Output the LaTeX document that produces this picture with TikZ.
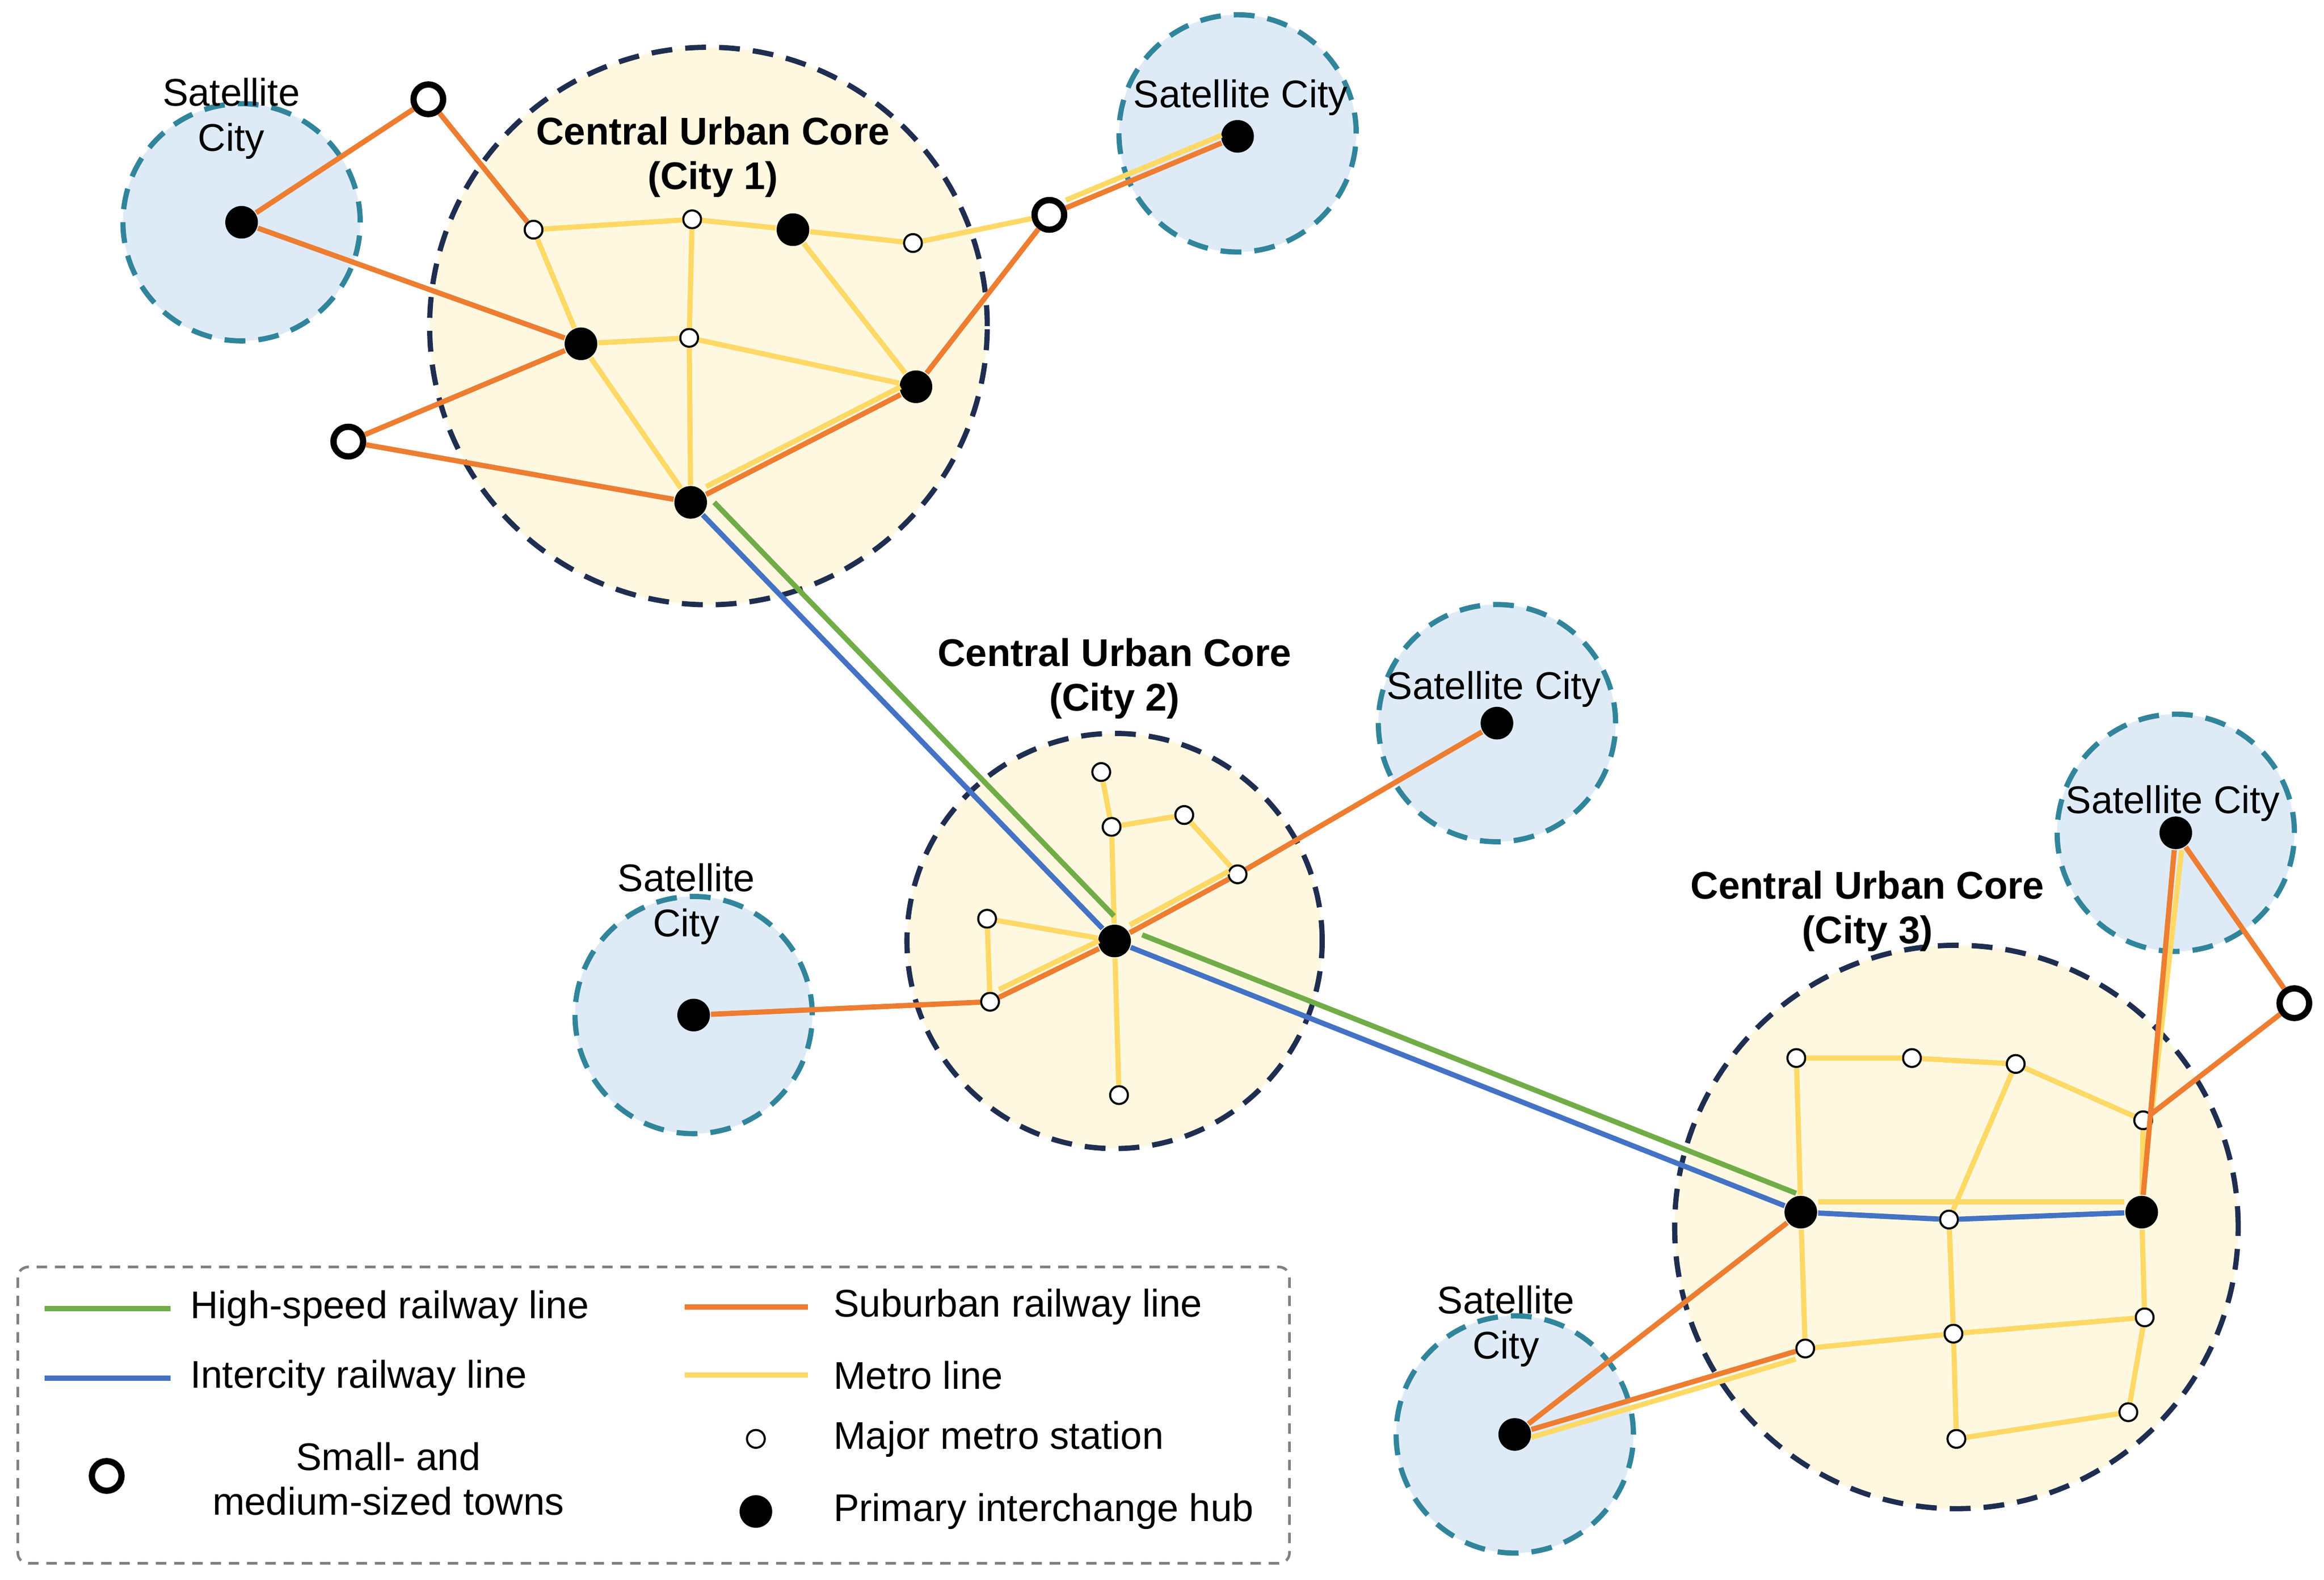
\documentclass[tikz,border=0pt]{standalone}
\usepackage{fontspec}
\setmainfont{Liberation Sans}
\definecolor{hsr}{RGB}{112,173,71}
\definecolor{icr}{RGB}{68,114,196}
\definecolor{sub}{RGB}{237,125,49}
\definecolor{met}{RGB}{255,217,102}
\definecolor{satfill}{RGB}{222,235,247}
\definecolor{satline}{RGB}{49,133,155}
\definecolor{corefill}{RGB}{255,248,225}
\definecolor{coreline}{RGB}{31,45,80}
\tikzset{
  sat/.style={fill=satfill, draw=satline, line width=1pt, dash pattern=on 4pt off 2.5pt},
  core/.style={fill=corefill, draw=coreline, line width=1pt, dash pattern=on 4pt off 2.5pt},
  hub/.style={circle, fill=black, inner sep=0pt, minimum size=0.22cm},
  stn/.style={circle, fill=white, draw=black, line width=0.4pt, inner sep=0pt, minimum size=0.12cm},
  town/.style={circle, fill=white, draw=black, line width=1.2pt, inner sep=0pt, minimum size=0.2cm},
  hsl/.style={hsr, line width=1pt},
  icl/.style={icr, line width=1pt},
  subl/.style={sub, line width=1pt},
  metl/.style={met, line width=1pt},
  lbl/.style={align=center, font=\fontsize{7.4}{8.6}\selectfont},
  blbl/.style={lbl, font=\fontsize{7.4}{8.6}\selectfont\bfseries}
}
\begin{document}
\begin{tikzpicture}[x=0.01cm, y=-0.01cm]
\useasboundingbox (0,0) rectangle (1568,1066);

% Regions
\draw[core] (478,220) circle[radius=1.88cm];
\draw[core] (752,635) circle[radius=1.4cm];
\draw[core] (1320,828) circle[radius=1.9cm];
\foreach \c in {(163,150),(835,90),(1010,488),(468,685),(1468,562),(1022,968)}
  \draw[sat] \c circle[radius=0.8cm];

% City 1
\node[hub] (h1a) at (535,155) {};
\node[hub] (h1b) at (392,232) {};
\node[hub] (h1c) at (618,261) {};
\node[hub] (h1d) at (466,339) {};
\node[stn] (s1a) at (360,155) {};
\node[stn] (s1b) at (467,148) {};
\node[stn] (s1c) at (616,164) {};
\node[stn] (s1d) at (465,228) {};
\node[town] (t1a) at (289,67) {};
\node[town] (t1b) at (235,298) {};
\node[town] (t1c) at (708,145) {};
\node[hub] (sa1) at (163,150) {};
\node[hub] (sa2) at (835,92) {};

% City 2
\node[hub] (h2) at (752,635) {};
\node[stn] (s2a) at (743,521) {};
\node[stn] (s2b) at (750,558) {};
\node[stn] (s2c) at (799,550) {};
\node[stn] (s2d) at (835,590) {};
\node[stn] (s2e) at (666,620) {};
\node[stn] (s2f) at (668,676) {};
\node[stn] (s2g) at (755,739) {};
\node[hub] (sa3) at (1010,488) {};
\node[hub] (sa4) at (468,685) {};

% City 3
\node[hub] (h3a) at (1215,818) {};
\node[hub] (h3b) at (1445,818) {};
\node[stn] (s3a) at (1212,714) {};
\node[stn] (s3b) at (1290,714) {};
\node[stn] (s3c) at (1360,718) {};
\node[stn] (s3d) at (1446,756) {};
\node[stn] (s3e) at (1315,823) {};
\node[stn] (s3f) at (1218,910) {};
\node[stn] (s3g) at (1318,900) {};
\node[stn] (s3h) at (1447,889) {};
\node[stn] (s3i) at (1320,971) {};
\node[stn] (s3j) at (1436,953) {};
\node[hub] (sa5) at (1468,562) {};
\node[hub] (sa6) at (1022,968) {};
\node[town] (t3a) at (1548,677) {};

% Metro lines
\draw[metl] (s1a) -- (s1b) -- (h1a) -- (s1c) -- (t1c);
\draw[metl, transform canvas={yshift=1.5pt}] (t1c) -- (sa2);
\draw[metl] (s1a) -- (h1b) -- (h1d);
\draw[metl] (s1b) -- (s1d) -- (h1d);
\draw[metl] (h1b) -- (s1d) -- (h1c);
\draw[metl] (h1a) -- (h1c);
\draw[metl, transform canvas={yshift=1.5pt}] (h1d) -- (h1c);
\draw[metl] (s2a) -- (s2b) -- (s2c) -- (s2d);
\draw[metl] (s2b) -- (h2) -- (s2g);
\draw[metl] (s2e) -- (h2);
\draw[metl] (s2e) -- (s2f);
\draw[metl, transform canvas={yshift=1.5pt}] (s2f) -- (h2) -- (s2d);
\draw[metl] (s3a) -- (s3b) -- (s3c) -- (s3d);
\draw[metl] (s3a) -- (h3a);
\draw[metl] (s3c) -- (s3e) -- (s3g) -- (s3i) -- (s3j) -- (s3h) -- (h3b) -- (s3d);
\draw[metl, transform canvas={yshift=2pt}] (h3a) -- (h3b);
\draw[metl, transform canvas={xshift=1.5pt}] (s3d) -- (sa5);
\draw[metl] (h3a) -- (s3f) -- (s3g) -- (s3h);
\draw[metl, transform canvas={yshift=-1.5pt}] (sa6) -- (s3f);

% Suburban lines
\draw[subl] (sa1) -- (t1a) -- (s1a);
\draw[subl] (sa1) -- (h1b) -- (t1b) -- (h1d) -- (h1c) -- (t1c) -- (sa2);
\draw[subl] (sa4) -- (s2f) -- (h2) -- (s2d) -- (sa3);
\draw[subl] (sa6) -- (h3a);
\draw[subl] (sa6) -- (s3f);
\draw[subl] (h3b) -- (sa5) -- (t3a) -- (s3d);

% Intercity and high-speed lines
\draw[icl] (h1d) -- (h2) -- (h3a) -- (s3e) -- (h3b);
\draw[hsl, transform canvas={xshift=2.2pt, yshift=2.4pt}] (h1d) -- (h2) -- (h3a);

% Labels
\node[lbl] (l1) at (156,80) {Satellite\\City};
\node[lbl] (l2) at (837,66) {Satellite City};
\node[lbl] (l3) at (1008,465) {Satellite City};
\node[lbl] (l4) at (1466,542) {Satellite City};
\node[lbl] (l5) at (463,610) {Satellite\\City};
\node[lbl] (l6) at (1016,895) {Satellite\\City};
\node[blbl] (c1) at (481,106) {Central Urban Core\\(City 1)};
\node[blbl] (c2) at (752,458) {Central Urban Core\\(City 2)};
\node[blbl] (c3) at (1260,615) {Central Urban Core\\(City 3)};

% Legend
\draw[gray, line width=0.5pt, dash pattern=on 2pt off 1.5pt, rounded corners=2pt] (12,855) rectangle (870,1055);
\coordinate (k1a) at (30,883); \coordinate (k1b) at (115,883);
\coordinate (k2a) at (462,882); \coordinate (k2b) at (545,882);
\coordinate (k3a) at (30,930); \coordinate (k3b) at (115,930);
\coordinate (k4a) at (462,928); \coordinate (k4b) at (545,928);
\draw[hsl] (k1a) -- (k1b);
\draw[subl] (k2a) -- (k2b);
\draw[icl] (k3a) -- (k3b);
\draw[metl] (k4a) -- (k4b);
\node[lbl, anchor=west] at (116,883) {High-speed railway line};
\node[lbl, anchor=west] at (550,882) {Suburban railway line};
\node[lbl, anchor=west] at (116,930) {Intercity railway line};
\node[lbl, anchor=west] at (550,928) {Metro line};
\node[town] (kt) at (72,996) {};
\node[lbl] at (262,998) {Small- and\\medium-sized towns};
\node[stn] (ks) at (510,971) {};
\node[lbl, anchor=west] at (550,971) {Major metro station};
\node[hub] (kh) at (510,1020) {};
\node[lbl, anchor=west] at (550,1020) {Primary interchange hub};
\end{tikzpicture}
\end{document}
